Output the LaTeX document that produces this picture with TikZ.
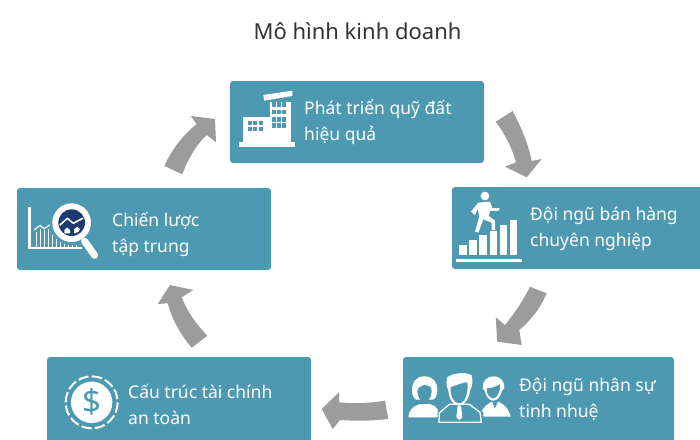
\documentclass[tikz,border=0pt]{standalone}
\usepackage{fontspec}
\setmainfont{Noto Sans}
\definecolor{boxc}{HTML}{4E99B2}
\definecolor{arrc}{HTML}{9C9C9C}
\definecolor{navy}{HTML}{1B3A6F}
\definecolor{titlec}{HTML}{333333}
\tikzset{
 card/.style={fill=boxc,rounded corners=3pt},
 lab/.style={anchor=west,text=white,font=\bfseries\fontsize{17.5}{26}\selectfont,align=left,inner sep=0pt},
 blockarrow/.style={fill=arrc},
 ico/.style={fill=white},
 icoline/.style={draw=white,line cap=round,line join=round}
}
\begin{document}
\begin{tikzpicture}[x=1pt,y=-1pt]
\useasboundingbox (0,0) rectangle (700,439);
\clip (0,0) rectangle (700,439);
\node[anchor=center,text=titlec,font=\bfseries\fontsize{22}{26}\selectfont,inner sep=0pt] (title) at (357.5,31) {Mô hình kinh doanh};
% cards
\fill[card] (230,81) rectangle (484,163);
\fill[card] (452,187) rectangle (712,269);
\fill[card] (17,188) rectangle (271,270);
\fill[card] (47,357) rectangle (311,450);
\fill[card] (403,357) rectangle (674,450);
% labels
\node[lab] (t1) at (304,122) {Phát triển quỹ đất\\hiệu quả};
\node[lab] (t2) at (530,229) {Đội ngũ bán hàng\\chuyên nghiệp};
\node[lab] (t3) at (112,234) {Chiến lược\\tập trung};
\node[lab] (t4) at (128,404) {Cấu trúc tài chính\\an toàn};
\node[lab] (t5) at (519,399) {Đội ngũ nhân sự\\tinh nhuệ};
% arrows
\fill[blockarrow] (495.7,121.7) -- (512.7,111) .. controls (521,127) and (528,143) .. (531.7,161) -- (541.7,159) -- (526.7,177.3) -- (505,166.7) -- (516,162.3) .. controls (512,148) and (505,134) .. cycle;
\fill[blockarrow] (530,286.7) -- (546.7,293.3) .. controls (540,309) and (531,320) .. (519.3,330) -- (521.7,345) -- (497.3,341.7) -- (495.7,317.3) -- (505,325) .. controls (514,314) and (523,301) .. cycle;
\fill[blockarrow] (207.3,335.7) -- (191.7,347.7) .. controls (180,334) and (172,319) .. (167.7,303.3) -- (157.7,304) -- (170,285) -- (193.3,290) -- (181.7,297.3) .. controls (187,311) and (196,324) .. cycle;
\fill[blockarrow] (182.3,174.3) -- (164.3,166) .. controls (172,149) and (183,135) .. (196.7,124) -- (190.7,116) -- (215,119) -- (216,142.3) -- (206.7,135) .. controls (196,145) and (188,159) .. cycle;
\fill[blockarrow] (385,400.7) -- (388.3,419) .. controls (372,421) and (356,421) .. (340,420) -- (332.7,429) -- (321.7,409) -- (339,392.3) -- (339,402.3) .. controls (355,404) and (370,403) .. cycle;
% building icon
\begin{scope}[xshift=220pt,yshift=-70pt,scale=1/3]
\fill[ico] (58,215) rectangle (225,232);
\fill[ico] (70,140) rectangle (150,215);
\fill[ico] (150,96) rectangle (212,215);
\fill[ico] (130,75) -- (217,62) -- (217,78) -- (132,92) -- cycle;
\foreach \cx in {155,171,187}{\foreach \cy in {97,119,141,160}{\fill[boxc] (\cx,\cy) rectangle +(12,14);}}
\foreach \cx in {84,100,116}{\foreach \cy in {152,170}{\fill[boxc] (\cx,\cy) rectangle +(12,13);}}
\end{scope}
% runner icon
\begin{scope}[xshift=440pt,yshift=-180pt,scale=1/3]
\fill[ico] (48,236) rectangle (245,247);
\fill[ico] (57,196) rectangle (80,226);
\fill[ico] (88,181) rectangle (110,226);
\fill[ico] (118,165) rectangle (140,226);
\fill[ico] (149,152) rectangle (171,226);
\fill[ico] (179,135) rectangle (201,226);
\fill[ico] (209,121) rectangle (232,226);
\fill[ico] (135,48) circle (13);
\fill[ico] (115,68) -- (150,65) -- (157,84) -- (178,84) -- (178,92) -- (150,93) -- (146,108) -- (165,122) -- (165,150) -- (155,150) -- (155,128) -- (130,118) -- (115,158) -- (105,155) -- (118,110) -- (113,86) -- (105,105) -- (93,95) -- cycle;
\end{scope}
% analysis icon
\begin{scope}[xshift=10pt,yshift=-180pt,scale=1/3]
\fill[ico] (54,82) rectangle (63,208);
\fill[ico] (54,202) rectangle (215,208);
\foreach \bx/\by in {78/155,90/146,102/150,114/148,126/165,138/178,150/186,162/192,174/194,186/194,198/194}{\fill[ico] (\bx,\by) rectangle (\bx+4,200);}
\draw[icoline,line width=1.2pt] (73,150) -- (90,136) -- (102,146) -- (119,135);
\draw[icoline,line width=7pt] (224,184) -- (254,226);
\fill[ico] (185,128) circle (58);
\fill[navy] (185,128) circle (40);
\draw[icoline,line width=1.6pt] (150,135) -- (172,115) -- (190,130) -- (218,115);
\fill[ico] (163,150) -- (172,142) -- (180,150) -- (180,160) -- (163,160) -- cycle;
\fill[ico] (192,148) -- (202,140) -- (210,148) -- (205,156) -- (192,160) -- cycle;
\end{scope}
% coin icon
\begin{scope}[xshift=40pt,yshift=-349pt,scale=1/3]
\fill[ico] (155,160) circle (62);
\draw[draw=white,line width=2pt,dash pattern=on 10.4pt off 3.2pt] (155,160) circle (78);
\node[text=boxc,font=\bfseries\fontsize{33}{33}\selectfont,inner sep=0pt] (dollar) at (155,160) {\$};
\end{scope}
% people icon
\begin{scope}[xshift=390pt,yshift=-349pt,scale=1/3]
% left woman
\fill[ico] (55,205) .. controls (55,185) and (70,170) .. (90,165) -- (120,165) .. controls (138,170) and (150,185) .. (150,205) -- cycle;
\fill[ico] (103,82) .. controls (130,82) and (142,100) .. (142,125) .. controls (142,140) and (135,150) .. (128,152) -- (78,152) .. controls (70,148) and (66,135) .. (66,125) .. controls (66,100) and (78,82) .. (103,82) -- cycle;
\fill[boxc] (103,108) .. controls (118,110) and (125,112) .. (125,128) .. controls (125,145) and (112,160) .. (103,160) .. controls (94,160) and (82,145) .. (82,128) .. controls (82,115) and (92,112) .. (103,108) -- cycle;
% right man
\fill[ico] (270,198) .. controls (280,170) and (295,165) .. (305,158) -- (325,158) .. controls (340,165) and (355,175) .. (362,203) -- (285,203) -- cycle;
\fill[boxc] (305,155) -- (315,178) -- (325,155) -- cycle;
\fill[ico] (310,82) .. controls (332,82) and (345,98) .. (343,118) -- (336,125) .. controls (332,142) and (322,155) .. (310,155) .. controls (298,155) and (288,142) .. (284,125) -- (278,118) .. controls (276,98) and (290,82) .. (310,82) -- cycle;
\fill[boxc] (290,118) .. controls (305,118) and (320,112) .. (330,105) .. controls (332,125) and (322,148) .. (310,148) .. controls (298,148) and (290,135) .. (290,118) -- cycle;
% center man
\fill[boxc] (143,225) -- (143,185) -- (175,160) -- (240,160) -- (280,190) -- (280,225) -- cycle;
\draw[icoline,line width=1.3pt] (147,220) -- (148,192) -- (178,166) -- (238,166) -- (270,190) -- (274,220) -- cycle;
\fill[ico] (172,85) .. controls (190,70) and (235,68) .. (246,80) .. controls (248,100) and (248,110) .. (240,125) .. controls (236,155) and (220,170) .. (207,170) .. controls (192,170) and (178,155) .. (175,125) .. controls (168,110) and (168,95) .. (172,85) -- cycle;
\fill[boxc] (182,115) .. controls (200,108) and (220,100) .. (232,100) .. controls (236,130) and (225,163) .. (207,163) .. controls (192,163) and (180,140) .. (182,115) -- cycle;
\fill[ico] (203,170) -- (213,170) -- (217,205) -- (208,213) -- (199,205) -- cycle;
\end{scope}
\end{tikzpicture}
\end{document}
